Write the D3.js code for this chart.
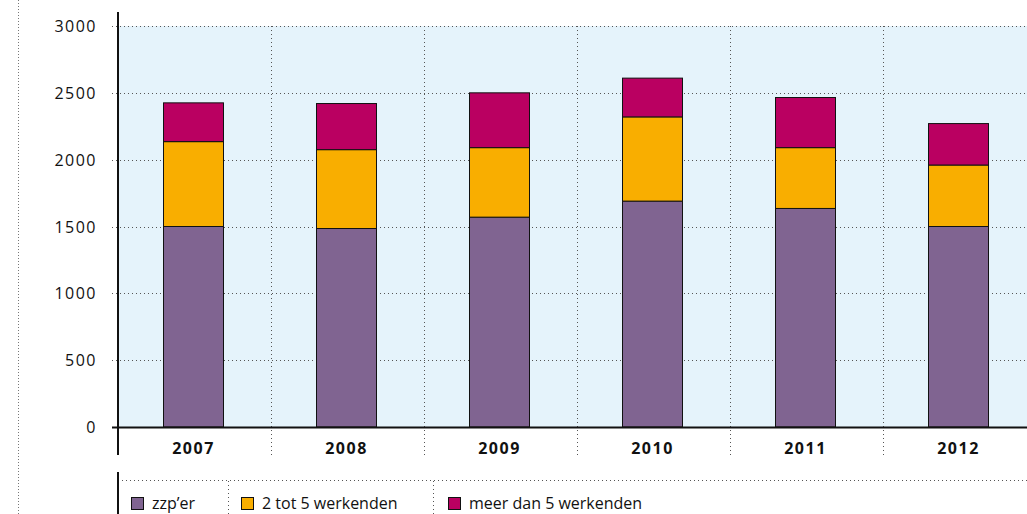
<!DOCTYPE html>
<html>
<head>
<meta charset="utf-8">
<script src="https://cdn.jsdelivr.net/npm/d3@7"></script>
<style>
  body { margin: 0; background: #fff; }
  text { font-family: "Open Sans", sans-serif; fill: #111; }
</style>
</head>
<body>
<div id="chart"></div>
<script>
// values
const years = ["2007", "2008", "2009", "2010", "2011", "2012"];
const zzper = [1500, 1485, 1570, 1690, 1635, 1500];
const tot5 = [635, 590, 520, 630, 455, 460];
const meer5 = [290, 345, 410, 290, 375, 310];
const seriesNames = ["zzp\u2019er", "2 tot 5 werkenden", "meer dan 5 werkenden"];
const yTicks = [0, 500, 1000, 1500, 2000, 2500, 3000];

const width = 1027, height = 514;
const colors = ["#806491", "#f9ae00", "#ba0061"];

const svg = d3.select("#chart").append("svg")
    .attr("width", width)
    .attr("height", height);

const plotLeft = 118, plotTop = 26, plotBottom = 427;

const x = d3.scaleBand()
    .domain(years)
    .range([plotLeft, plotLeft + 153 * years.length])
    .paddingInner(0)
    .paddingOuter(0);

const y = d3.scaleLinear()
    .domain([0, 3000])
    .range([plotBottom, plotTop]);

// left dotted border line
svg.append("line")
    .attr("x1", 18.5).attr("x2", 18.5)
    .attr("y1", 0).attr("y2", height)
    .attr("stroke", "#777")
    .attr("stroke-dasharray", "1,2");

// plot background
svg.append("rect")
    .attr("x", plotLeft).attr("y", plotTop)
    .attr("width", width - plotLeft).attr("height", plotBottom - plotTop)
    .attr("fill", "#e5f3fb");

// horizontal grid
svg.append("g")
    .selectAll("line")
    .data(yTicks.filter(d => d > 0))
    .enter()
    .append("line")
    .attr("x1", 112).attr("x2", width)
    .attr("y1", d => Math.round(y(d)) + 0.5)
    .attr("y2", d => Math.round(y(d)) + 0.5)
    .attr("stroke", "#555")
    .attr("stroke-dasharray", "1,3");

// vertical grid / separators between years
svg.append("g")
    .selectAll("line")
    .data(years.slice(1))
    .enter()
    .append("line")
    .attr("x1", d => Math.round(x(d)) + 0.5)
    .attr("x2", d => Math.round(x(d)) + 0.5)
    .attr("y1", plotTop).attr("y2", 455)
    .attr("stroke", "#555")
    .attr("stroke-dasharray", "1,3");

// stacked bars
const table = years.map((yr, i) => ({ year: yr, a: zzper[i], b: tot5[i], c: meer5[i] }));
const stack = d3.stack().keys(["a", "b", "c"]);
const layers = stack(table);
const barW = 60;

svg.append("g")
    .selectAll("g")
    .data(layers)
    .enter()
    .append("g")
    .attr("fill", (d, i) => colors[i])
    .selectAll("rect")
    .data(d => d)
    .enter()
    .append("rect")
    .attr("x", d => x(d.data.year) + x.bandwidth() / 2 - barW / 2 - 1)
    .attr("y", d => y(d[1]))
    .attr("width", barW)
    .attr("height", d => y(d[0]) - y(d[1]))
    .attr("stroke", "#111")
    .attr("stroke-width", 1);

// y tick labels
svg.append("g")
    .selectAll("text")
    .data(yTicks)
    .enter()
    .append("text")
    .attr("x", 97)
    .attr("y", d => y(d) + 6)
    .attr("text-anchor", "end")
    .style("font-size", "16px")
    .style("letter-spacing", "1.5px")
    .text(d => d);

// x labels
svg.append("g")
    .selectAll("text")
    .data(years)
    .enter()
    .append("text")
    .attr("x", d => x(d) + x.bandwidth() / 2 - 1)
    .attr("y", 454)
    .attr("text-anchor", "middle")
    .style("font-size", "16px")
    .style("font-weight", "bold")
    .style("letter-spacing", "1.5px")
    .text(d => d);

// axes lines
svg.append("line")
    .attr("x1", plotLeft).attr("x2", plotLeft)
    .attr("y1", 12).attr("y2", 455)
    .attr("stroke", "#111").attr("stroke-width", 2);

svg.append("line")
    .attr("x1", 112).attr("x2", width)
    .attr("y1", plotBottom + 0.5).attr("y2", plotBottom + 0.5)
    .attr("stroke", "#111").attr("stroke-width", 2);

// legend
const legend = svg.append("g");
legend.append("line")
    .attr("x1", plotLeft).attr("x2", plotLeft)
    .attr("y1", 472).attr("y2", height)
    .attr("stroke", "#111").attr("stroke-width", 2);
legend.append("line")
    .attr("x1", 122).attr("x2", width)
    .attr("y1", 480.5).attr("y2", 480.5)
    .attr("stroke", "#555")
    .attr("stroke-dasharray", "1,3");

const legX = [131, 241, 448];
const sepX = [228.5, 433.5];
legend.selectAll(".sep")
    .data(sepX)
    .enter()
    .append("line")
    .attr("x1", d => d).attr("x2", d => d)
    .attr("y1", 481).attr("y2", height)
    .attr("stroke", "#555")
    .attr("stroke-dasharray", "1,3");

const item = legend.selectAll(".item")
    .data(seriesNames)
    .enter()
    .append("g")
    .attr("transform", (d, i) => "translate(" + legX[i] + ",497)");

item.append("rect")
    .attr("x", 0.5).attr("y", 0.5)
    .attr("width", 12).attr("height", 12)
    .attr("fill", (d, i) => colors[i])
    .attr("stroke", "#111");

item.append("text")
    .attr("x", 21)
    .attr("y", 12)
    .style("font-size", "16px")
    .text(d => d);
</script>
</body>
</html>
